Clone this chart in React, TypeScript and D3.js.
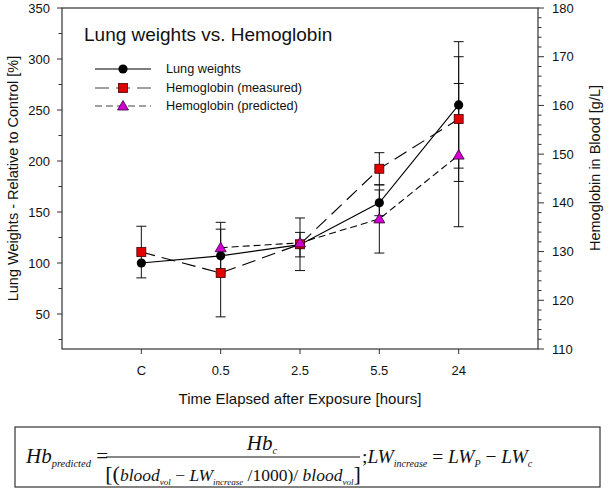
import React from "react";
import * as d3 from "d3";

const categories = ["C", "0.5", "2.5", "5.5", "24"];
const lungWeights = [100, 107, 118, 159, 255];
const lungErr = [0, 0, 12, 12.6, 62];
const hbMeasured = [129.9, 125.6, 131.5, 147.0, 157.2];
const hbMeasuredErr = [5.3, 9.0, 5.4, 3.3, 12.8];
const hbPredicted: (number | null)[] = [null, 130.8, 131.8, 136.7, 149.8];
const hbPredictedErr: (number | null)[] = [null, 5.2, 0, 7.0, 14.7];
const leftTicks = [50, 100, 150, 200, 250, 300, 350];
const leftMinor = [25, 75, 125, 175, 225, 275, 325];
const rightTicks = [110, 120, 130, 140, 150, 160, 170, 180];
const legendLabels = ["Lung weights", "Hemoglobin (measured)", "Hemoglobin (predicted)"];

const W = 615, H = 490;
const L = 62, R = 538, T = 8, B = 349;
const AX = "#333";
const FONT = "Arial, 'Liberation Sans', sans-serif";

export default function App() {
  const x = d3.scaleLinear().domain([0, categories.length + 1]).range([L, R]);
  const yL = d3.scaleLinear().domain([350 - (B - T) * 50 / 51, 350]).range([B, T]);
  const yR = d3.scaleLinear().domain([110, 180]).range([B, T]);
  const rightMinor = d3.range(110, 181, 2).filter((v) => v % 10 !== 0);

  const lungPts = lungWeights.map((v, i) => ({ x: x(i + 1), y: yL(v) }));
  const measPts = hbMeasured.map((v, i) => ({ x: x(i + 1), y: yR(v) }));
  const predPts = hbPredicted
    .map((v, i) => (v == null ? null : { x: x(i + 1), y: yR(v), v, e: hbPredictedErr[i] || 0 }))
    .filter((p) => p != null) as { x: number; y: number; v: number; e: number }[];

  const line = d3.line<{ x: number; y: number }>().x((d) => d.x).y((d) => d.y);

  const errBar = (cx: number, y1: number, y2: number, k: string) => (
    <g key={k} stroke="#111" strokeWidth={1}>
      <line x1={cx} x2={cx} y1={y1} y2={y2} />
      <line x1={cx - 5} x2={cx + 5} y1={y1} y2={y1} />
      <line x1={cx - 5} x2={cx + 5} y1={y2} y2={y2} />
    </g>
  );

  const circle = (cx: number, cy: number, k: string) => <circle key={k} cx={cx} cy={cy} r={4.6} fill="#000" />;
  const square = (cx: number, cy: number, k: string) => (
    <rect key={k} x={cx - 4.5} y={cy - 4.5} width={9} height={9} fill="#e00000" stroke="#400" strokeWidth={0.8} />
  );
  const tri = (cx: number, cy: number, k: string) => (
    <path key={k} d={`M${cx},${cy - 5.5}L${cx + 5.5},${cy + 4}L${cx - 5.5},${cy + 4}Z`} fill="#d000d0" stroke="#303" strokeWidth={0.8} />
  );

  const errs: React.ReactNode[] = [];
  lungWeights.forEach((v, i) => {
    if (lungErr[i] > 0) errs.push(errBar(x(i + 1), yL(v + lungErr[i]), yL(v - lungErr[i]), "le" + i));
  });
  hbMeasured.forEach((v, i) => {
    if (hbMeasuredErr[i] > 0) errs.push(errBar(x(i + 1), yR(v + hbMeasuredErr[i]), yR(v - hbMeasuredErr[i]), "me" + i));
  });
  predPts.forEach((p, i) => {
    if (p.e > 0) errs.push(errBar(p.x, yR(p.v + p.e), yR(p.v - p.e), "pe" + i));
  });

  const legY = [69, 88, 106];
  const dashes = [undefined, "14,7", "7,4"];

  return (
    <svg width={W} height={H} style={{ position: "absolute", left: 0, top: 0, background: "#fff" }} fontFamily={FONT}>
      <rect x={0} y={0} width={W} height={H} fill="#fff" />
      <rect x={L} y={T} width={R - L} height={B - T} fill="none" stroke={AX} strokeWidth={1.2} />
      {leftTicks.map((t) => (
        <g key={"lt" + t}>
          <line x1={L - 5} x2={L} y1={yL(t)} y2={yL(t)} stroke={AX} />
          <text x={L - 12} y={yL(t)} dy="0.35em" textAnchor="end" fontSize={13} fill="#111">{t}</text>
        </g>
      ))}
      {leftMinor.map((t) => (
        <line key={"lm" + t} x1={L - 3.5} x2={L} y1={yL(t)} y2={yL(t)} stroke={AX} />
      ))}
      {rightTicks.map((t) => (
        <g key={"rt" + t}>
          <line x1={R} x2={R + 6} y1={yR(t)} y2={yR(t)} stroke={AX} />
          <text x={R + 14} y={yR(t)} dy="0.35em" textAnchor="start" fontSize={13} fill="#111">{t}</text>
        </g>
      ))}
      {rightMinor.map((t) => (
        <line key={"rm" + t} x1={R} x2={R + 3.5} y1={yR(t)} y2={yR(t)} stroke={AX} />
      ))}
      {categories.map((c, i) => (
        <g key={"xt" + c}>
          <line x1={x(i + 1)} x2={x(i + 1)} y1={B} y2={B + 5} stroke={AX} />
          <text x={x(i + 1)} y={375} textAnchor="middle" fontSize={13} fill="#111">{c}</text>
        </g>
      ))}
      <text x={(L + R) / 2} y={404} textAnchor="middle" fontSize={15} fill="#111">Time Elapsed after Exposure [hours]</text>
      <text transform={`translate(18,${(T + B) / 2}) rotate(-90)`} textAnchor="middle" fontSize={14.5} fill="#111">
        Lung Weights - Relative to Control [%]
      </text>
      <text transform={`translate(600,168) rotate(-90)`} textAnchor="middle" fontSize={14.5} fill="#111">
        Hemoglobin in Blood [g/L]
      </text>

      {errs}
      <path d={line(lungPts) || ""} fill="none" stroke="#000" strokeWidth={1.1} />
      <path d={line(measPts) || ""} fill="none" stroke="#000" strokeWidth={1.1} strokeDasharray={dashes[1]} />
      <path d={line(predPts) || ""} fill="none" stroke="#000" strokeWidth={1.1} strokeDasharray={dashes[2]} />
      {lungPts.map((p, i) => circle(p.x, p.y, "c" + i))}
      {measPts.map((p, i) => square(p.x, p.y, "s" + i))}
      {predPts.map((p, i) => tri(p.x, p.y, "t" + i))}

      <text x={84} y={41} fontSize={19} fill="#111">Lung weights vs. Hemoglobin</text>
      {legendLabels.map((lab, i) => (
        <g key={"lg" + i}>
          <line x1={95} x2={151} y1={legY[i]} y2={legY[i]} stroke={i === 0 ? "#000" : "#444"} strokeWidth={1.1} strokeDasharray={dashes[i]} />
          {i === 0 ? circle(123, legY[i], "lc") : i === 1 ? square(123, legY[i], "ls") : tri(123, legY[i], "lt")}
          <text x={166} y={legY[i]} dy="0.35em" fontSize={12.7} fill="#111">{lab}</text>
        </g>
      ))}

      <rect x={15} y={427} width={585} height={60} fill="#fff" stroke="#333" strokeWidth={1.2} />
      <g fontFamily="'Liberation Serif', 'Times New Roman', serif" fontStyle="italic" fill="#111">
        <text x={26} y={463} fontSize={21}>
          Hb<tspan fontSize={10.5} dy={4}>predicted</tspan>
          <tspan fontStyle="normal" dy={-4}> =</tspan>
        </text>
        <line x1={106} x2={360} y1={457} y2={457} stroke="#111" strokeWidth={1} />
        <text x={262} y={450} fontSize={21} textAnchor="middle">
          Hb<tspan fontSize={10.5} dy={4}>c</tspan>
        </text>
        <text x={233} y={481} fontSize={17.5} textAnchor="middle">
          <tspan fontStyle="normal" fontSize={22}>[(</tspan>blood<tspan fontSize={9} dy={4}>vol</tspan>
          <tspan fontStyle="normal" dy={-4}> − </tspan>LW<tspan fontSize={9} dy={4}>increase</tspan>
          <tspan fontStyle="normal" dy={-4}> /1000)/ </tspan>blood<tspan fontSize={9} dy={4}>vol</tspan>
          <tspan fontStyle="normal" fontSize={22} dy={-4}>]</tspan>
        </text>
        <text x={362} y={463} fontSize={19.5}>
          <tspan fontStyle="normal">;</tspan>LW<tspan fontSize={10} dy={4}>increase</tspan>
          <tspan fontStyle="normal" dy={-4}> = </tspan>LW<tspan fontSize={10} dy={4}>P</tspan>
          <tspan fontStyle="normal" dy={-4}> − </tspan>LW<tspan fontSize={10} dy={4}>c</tspan>
        </text>
      </g>
    </svg>
  );
}
